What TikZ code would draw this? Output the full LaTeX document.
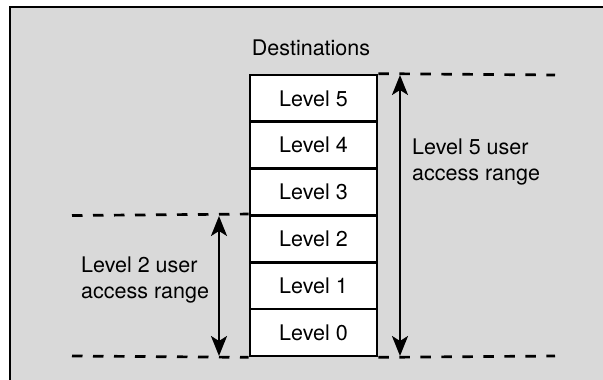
\documentclass[tikz,border=0pt]{standalone}
\usepackage{fontspec}
\setmainfont{TeX Gyre Heros}
\usetikzlibrary{arrows.meta}
\definecolor{bggray}{RGB}{217,217,217}
\tikzset{
  levelbox/.style={draw=black, fill=white, line width=2.7pt, minimum width=127pt, minimum height=47pt, inner sep=0pt, font=\fontsize{21.5}{26}\selectfont},
  dashline/.style={line width=2.7pt, dash pattern=on 10.5pt off 10.5pt},
  rangearrow/.style={line width=2.3pt, {Stealth[length=20pt,width=16pt,inset=5pt]}-{Stealth[length=20pt,width=16pt,inset=5pt]}},
  lbl/.style={font=\fontsize{21.5}{26}\selectfont, align=left, inner sep=0pt}
}
\begin{document}
\begin{tikzpicture}[x=1pt,y=-1pt]
\useasboundingbox (0,0) rectangle (603,380);
\fill[bggray] (10,7) rectangle (603,380);
\draw[line width=2pt] (10,380) -- (10,7) -- (603,7);

\node[lbl, anchor=center] (dest) at (311,48) {Destinations};

\node[levelbox] (l5) at (313.5,98.5) {Level 5};
\node[levelbox] (l4) at (313.5,145.3) {Level 4};
\node[levelbox] (l3) at (313.5,192.1) {Level 3};
\node[levelbox] (l2) at (313.5,238.9) {Level 2};
\node[levelbox] (l1) at (313.5,285.7) {Level 1};
\node[levelbox] (l0) at (313.5,332.5) {Level 0};

\coordinate (rt) at (555,75);
\coordinate (rb) at (555,356);
\coordinate (lm) at (72,215.5);
\coordinate (lb) at (72,356);

\draw[dashline] (l5.north east) -- (rt);
\draw[dashline] (l0.south east) -- (rb);
\draw[dashline] (lm) -- (l2.north west);
\draw[dashline] (lb) -- (l0.south west);

\coordinate (a5t) at (400,75);
\coordinate (a5b) at (400,356);
\coordinate (a2t) at (219,216);
\coordinate (a2b) at (219,356);
\draw[rangearrow] (a5b) -- (a5t);
\draw[rangearrow] (a2b) -- (a2t);

\node[lbl, anchor=west] (t5) at (412,162) {Level 5 user\\access range};
\node[lbl, anchor=west] (t2) at (81,280.5) {Level 2 user\\access range};
\end{tikzpicture}
\end{document}
